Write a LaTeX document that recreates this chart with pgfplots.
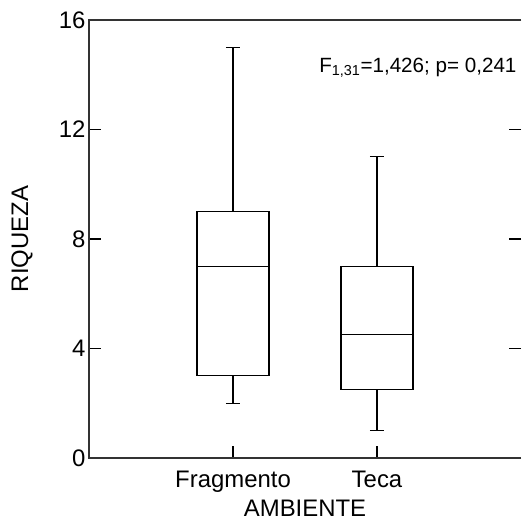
\documentclass[border=0pt]{standalone}
\usepackage{fontspec}
\setmainfont{Liberation Sans}
\usepackage{pgfplots}
\pgfplotsset{compat=1.18}
\usepgfplotslibrary{statistics}

\begin{document}
\begin{tikzpicture}
\begin{axis}[
    scale only axis,
    width=432bp, height=438bp,
    xmin=0, xmax=3, ymin=0, ymax=16,
    xtick={1,2}, xticklabels={Fragmento,Teca},
    ytick={0,4,8,12,16},
    xtick pos=bottom, ytick pos=both,
    tick align=inside,
    major tick length=12bp,
    tick style={black, line width=1.1bp},
    axis line style={draw=none},
    ticklabel style={font=\fontsize{24}{28}\selectfont},
    xticklabel style={yshift=-10bp},
    /pgf/number format/assume math mode=true,
    boxplot/draw direction=y,
    boxplot/box extend=0.5,
    boxplot/whisker extend=0.1,
    every boxplot/.style={black, line width=1.1bp},
    clip=false,
]
  % Fragmento
  \addplot+[boxplot prepared={
      lower whisker=2, lower quartile=3, median=7,
      upper quartile=9, upper whisker=15, draw position=1},
      black, solid, mark=none] coordinates {};
  % Teca
  \addplot+[boxplot prepared={
      lower whisker=1, lower quartile=2.5, median=4.5,
      upper quartile=7, upper whisker=11, draw position=2},
      black, solid, mark=none] coordinates {};

  \node[anchor=east, font=\fontsize{20.7}{24}\selectfont, inner sep=0pt]
    at (axis cs:2.97,14.25) {F\textsubscript{1,31}=1,426; p= 0,241};
\end{axis}
\draw[line width=1.1bp, black!80] (current axis.north east) -- (current axis.north west)
  -- (current axis.south west) -- (current axis.south east);
\node[rotate=90, font=\fontsize{24}{28}\selectfont]
  at ([xshift=-67bp]current axis.west) {RIQUEZA};
\node[font=\fontsize{24}{28}\selectfont, inner sep=0pt, anchor=base]
  at ([yshift=-58bp]current axis.south) {AMBIENTE};
\path ([shift={(-89bp,-64bp)}]current axis.south west) rectangle
  ([shift={(0bp,20bp)}]current axis.north east);
\end{tikzpicture}
\end{document}
